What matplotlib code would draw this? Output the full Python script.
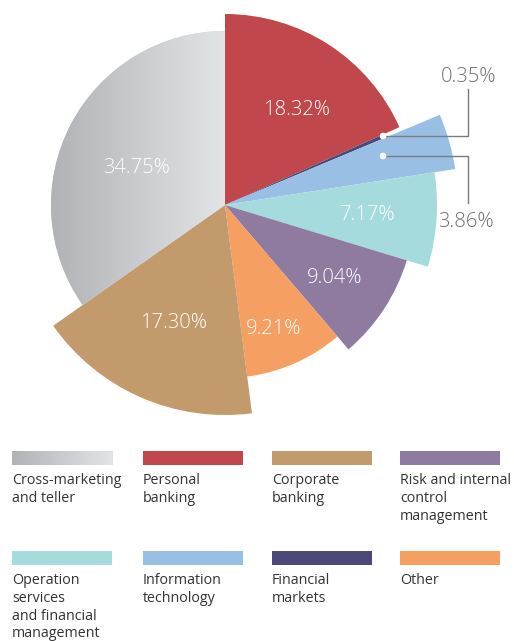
import matplotlib
matplotlib.use("Agg")
import matplotlib.pyplot as plt
import numpy as np
from matplotlib.patches import Rectangle, Circle

plt.rcParams['font.family'] = ['Open Sans', 'DejaVu Sans']

# data, clockwise from 12 o'clock
categories = ["Personal\nbanking", "Financial\nmarkets", "Information\ntechnology",
              "Operation\nservices\nand financial\nmanagement", "Risk and internal\ncontrol\nmanagement",
              "Other", "Corporate\nbanking", "Cross-marketing\nand teller"]
shares = [18.32, 0.35, 3.86, 7.17, 9.04, 9.21, 17.30, 34.75]
labels = ["18.32%", "0.35%", "3.86%", "7.17%", "9.04%", "9.21%", "17.30%", "34.75%"]
radius = [191, 170, 233, 212, 190, 173, 210, 174]
colors = ["#c0474b", "#4b4979", "#9abfe4", "#a6dbdd", "#8f7ba0", "#f59f62", "#c39a6b", "#c8c9cc"]

W, H = 514, 641
fig = plt.figure(figsize=(W / 100, H / 100), dpi=100)
ax = fig.add_axes([0, 0, 1, 1])

cx, cy = 225, H - 205
wedges, _ = ax.pie(shares, startangle=90, counterclock=False, colors=colors,
                   center=(cx, cy), radius=1)
for w, r in zip(wedges, radius):
    w.set_radius(r)
    w.set_linewidth(0)

# gradient fill for cross-marketing slice
gray = wedges[-1]
grad = np.linspace(0, 1, 256).reshape(1, -1)
cmap = matplotlib.colors.LinearSegmentedColormap.from_list("g", ["#b1b2b6", "#e3e4e6"])
im = ax.imshow(grad, cmap=cmap, extent=(cx - 175, cx, cy - 175, cy + 175), aspect='auto', zorder=2)
im.set_clip_path(gray)
gray.set_zorder(1)

# labels inside slices (pixel positions)
lab_pos = {"18.32%": (297, 110), "7.17%": (368, 215), "9.04%": (335, 278),
           "9.21%": (274, 329), "17.30%": (174, 323), "34.75%": (137, 168)}
for lab in labels:
    if lab in lab_pos:
        x, y = lab_pos[lab]
        ax.text(x, H - y, lab, color="white", fontsize=14.5, fontweight="light",
                ha="center", va="center", zorder=5)

# outside labels with leader lines
line_c = "#7a7b7e"
ax.plot([383, 468, 468], [H - 136, H - 136, H - 89], color=line_c, lw=1, zorder=4)
ax.plot([383, 468, 468], [H - 156, H - 156, H - 203], color=line_c, lw=1, zorder=4)
for yy in (136, 156):
    ax.add_patch(Circle((383, H - yy), 2.6, color="white", zorder=6))
ax.text(469, H - 77, labels[1], color="#6d6e70", fontsize=14.5, fontweight="light",
        ha="center", va="center")
ax.text(466, H - 222, labels[2], color="#6d6e70", fontsize=14.5, fontweight="light",
        ha="center", va="center")

# legend
order = [7, 0, 6, 4, 3, 2, 1, 5]
col_x = [12, 143, 272, 400]
row_y = [451, 551]
for k, idx in enumerate(order):
    x = col_x[k % 4]
    y = row_y[k // 4]
    if idx == 7:
        ax.imshow(grad, cmap=cmap, extent=(x, x + 101, H - y - 14, H - y), aspect='auto')
    else:
        ax.add_patch(Rectangle((x, H - y - 14), 100, 14, color=colors[idx], lw=0))
    ax.text(x, H - y - 22, categories[idx], color="#333333", fontsize=10.3,
            ha="left", va="top", linespacing=1.25)

ax.set_xlim(0, W)
ax.set_ylim(0, H)
ax.set_aspect('equal')
ax.axis('off')
fig.savefig("out.png", dpi=100)
